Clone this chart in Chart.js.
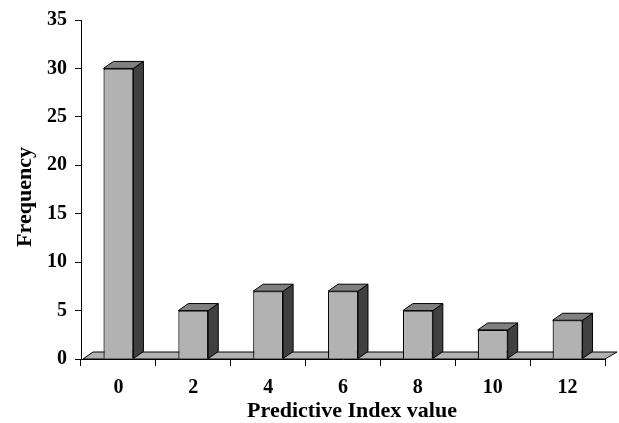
<!DOCTYPE html>
<html>
<head>
<meta charset="utf-8">
<script src="https://cdn.jsdelivr.net/npm/chart.js@4/dist/chart.umd.min.js"></script>
<style>
  html, body { margin: 0; padding: 0; background: #fff; }
  #wrap { width: 619px; height: 423px; }
</style>
</head>
<body>
<div id="wrap"><canvas id="c" width="619" height="423"></canvas></div>
<script>
const categories = ['0', '2', '4', '6', '8', '10', '12'];
const frequency = [30, 5, 7, 7, 5, 3, 4];
const yMin = 0, yMax = 35, yStep = 5;
const xTitle = 'Predictive Index value';
const yTitle = 'Frequency';

const FRONT = '#b2b2b2', SIDE = '#404040', TOP = '#808080', FLOOR = '#b2b2b2';
const DX = 10, DY = 7;
const FONT = 'Liberation Serif';

const threeD = {
  id: 'threeD',
  beforeDatasetsDraw(chart) {
    const ctx = chart.ctx, a = chart.chartArea;
    const base = a.bottom;
    ctx.save();
    ctx.fillStyle = FLOOR;
    ctx.strokeStyle = '#000';
    ctx.lineWidth = 1;
    ctx.beginPath();
    ctx.moveTo(a.left + 2, base);
    ctx.lineTo(a.left + 2 + DX, base - DY);
    ctx.lineTo(a.right + DX + 2, base - DY);
    ctx.lineTo(a.right, base);
    ctx.closePath();
    ctx.fill();
    ctx.stroke();
    ctx.restore();
  },
  afterDatasetsDraw(chart) {
    const ctx = chart.ctx;
    const meta = chart.getDatasetMeta(0);
    ctx.save();
    ctx.strokeStyle = '#000';
    ctx.lineWidth = 1;
    meta.data.forEach(bar => {
      const p = bar.getProps(['x', 'y', 'base', 'width'], true);
      const l = p.x - p.width / 2, r = p.x + p.width / 2;
      const t = p.y, b = p.base;
      ctx.fillStyle = SIDE;
      ctx.beginPath();
      ctx.moveTo(r, t);
      ctx.lineTo(r + DX, t - DY);
      ctx.lineTo(r + DX, b - DY);
      ctx.lineTo(r, b);
      ctx.closePath();
      ctx.fill();
      ctx.stroke();
      ctx.fillStyle = TOP;
      ctx.beginPath();
      ctx.moveTo(l, t);
      ctx.lineTo(l + DX, t - DY);
      ctx.lineTo(r + DX, t - DY);
      ctx.lineTo(r, t);
      ctx.closePath();
      ctx.fill();
      ctx.stroke();
    });
    ctx.restore();
  },
  afterDraw(chart) {
    const ctx = chart.ctx;
    ctx.save();
    ctx.fillStyle = '#000';
    ctx.font = 'bold 22px "' + FONT + '"';
    ctx.textAlign = 'center';
    ctx.textBaseline = 'alphabetic';
    ctx.fillText(xTitle, 352, 417);
    ctx.translate(31, 197);
    ctx.rotate(-Math.PI / 2);
    ctx.fillText(yTitle, 0, 0);
    ctx.restore();
  }
};

new Chart(document.getElementById('c'), {
  type: 'bar',
  data: {
    labels: categories,
    datasets: [{
      data: frequency,
      backgroundColor: FRONT,
      borderColor: '#000',
      borderWidth: 1.2,
      barPercentage: 0.8,
      categoryPercentage: 0.5
    }]
  },
  options: {
    responsive: false,
    animation: false,
    layout: { padding: { left: 0, right: 14, top: 20, bottom: 0 } },
    plugins: { legend: { display: false }, tooltip: { enabled: false } },
    scales: {
      x: {
        grid: { offset: true, drawOnChartArea: false, drawTicks: true, tickLength: 7, color: '#000', lineWidth: 1 },
        border: { display: true, color: '#000', width: 1 },
        ticks: { color: '#000', padding: 10, font: { family: FONT, size: 20, weight: 'bold' } },
        title: { display: false },
        afterFit(s) { s.height = 64; }
      },
      y: {
        min: yMin, max: yMax,
        grid: { drawOnChartArea: false, drawTicks: true, tickLength: 6, color: '#000', lineWidth: 1 },
        border: { display: true, color: '#000', width: 1 },
        ticks: { stepSize: yStep, color: '#000', padding: 8, font: { family: FONT, size: 20, weight: 'bold' } },
        title: { display: false },
        afterFit(s) { s.width = 81; }
      }
    }
  },
  plugins: [threeD]
});
</script>
</body>
</html>
